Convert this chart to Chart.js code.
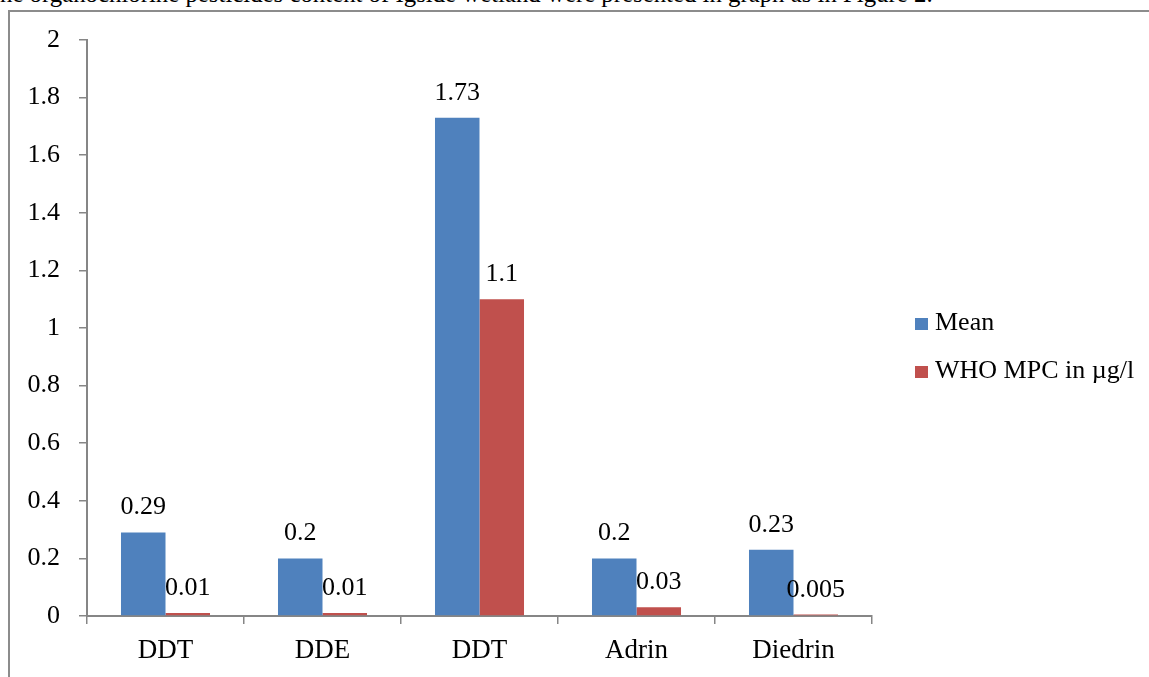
<!DOCTYPE html>
<html>
<head>
<meta charset="utf-8">
<script src="https://cdn.jsdelivr.net/npm/chart.js@4/dist/chart.umd.min.js"></script>
<style>
  html, body { margin: 0; padding: 0; background: #fff; overflow: hidden; }
  #page { position: relative; width: 1149px; height: 677px; overflow: hidden; }
  #lead {
    position: absolute; left: 0; top: -20px; white-space: nowrap;
    font-family: "Liberation Serif", serif; font-size: 24.8px; color: #000;
  }
  #frame {
    position: absolute; left: 8px; top: 10px; width: 1200px; height: 700px;
    border-left: 2px solid #8c8c8c; border-top: 2px solid #8c8c8c; box-sizing: border-box;
  }
  #wrap { position: absolute; left: 0; top: 0; width: 1149px; height: 677px; }
</style>
</head>
<body>
<div id="page">
  <div id="lead">he organochlorine pesticides content of Igside wetland were presented in graph as in Figure 2.</div>
  <div id="frame"></div>
  <div id="wrap"><canvas id="chart" width="1149" height="677"></canvas></div>
</div>
<script>
// Organochlorine pesticide residues (µg/l)
const categories = ["DDT", "DDE", "DDT", "Adrin", "Diedrin"];
const meanValues = [0.29, 0.2, 1.73, 0.2, 0.23];
const whoMpcValues = [0.01, 0.01, 1.1, 0.03, 0.005];
const seriesNames = ["Mean", "WHO MPC in \u00b5g/l"];
const yTickLabels = ["0", "0.2", "0.4", "0.6", "0.8", "1", "1.2", "1.4", "1.6", "1.8", "2"];

const FONT = "Liberation Serif";
const AXIS = "#868686";

// value written above every bar
const barValueLabels = {
  id: "barValueLabels",
  afterDatasetsDraw(chart) {
    const ctx = chart.ctx;
    ctx.save();
    ctx.font = "26px '" + FONT + "'";
    ctx.fillStyle = "#000";
    ctx.textAlign = "center";
    ctx.textBaseline = "alphabetic";
    chart.data.datasets.forEach((ds, di) => {
      chart.getDatasetMeta(di).data.forEach((bar, i) => {
        ctx.fillText(String(ds.data[i]), bar.x, bar.y - 18);
      });
    });
    ctx.restore();
  }
};

// legend on the right: coloured square then series name
const sideLegend = {
  id: "sideLegend",
  afterDraw(chart) {
    const ctx = chart.ctx;
    ctx.save();
    ctx.font = "26px '" + FONT + "'";
    ctx.textBaseline = "alphabetic";
    ctx.textAlign = "left";
    chart.data.datasets.forEach((ds, di) => {
      const base = 330 + di * 48;
      ctx.fillStyle = ds.backgroundColor;
      ctx.fillRect(915, base - 12, 13, 12);
      ctx.fillStyle = "#000";
      ctx.fillText(ds.label, 935, base);
    });
    ctx.restore();
  }
};

new Chart(document.getElementById("chart"), {
  type: "bar",
  data: {
    labels: categories,
    datasets: [
      { label: seriesNames[0], data: meanValues, backgroundColor: "#4F81BD" },
      { label: seriesNames[1], data: whoMpcValues, backgroundColor: "#C0504D" }
    ]
  },
  options: {
    responsive: false,
    animation: false,
    devicePixelRatio: 1,
    layout: { padding: { left: 0, right: 277, top: 40, bottom: 0 } },
    datasets: { bar: { categoryPercentage: 0.567, barPercentage: 1.0 } },
    plugins: { legend: { display: false }, tooltip: { enabled: false } },
    scales: {
      x: {
        afterFit(scale) { scale.height = 61; },
        grid: { display: true, drawOnChartArea: false, drawTicks: true, tickLength: 8, color: AXIS, lineWidth: 1.5, offset: true },
        border: { display: true, color: AXIS, width: 2 },
        ticks: { color: "#000", font: { family: FONT, size: 27 }, padding: 11, maxRotation: 0 }
      },
      y: {
        min: 0, max: 2,
        afterFit(scale) { scale.width = 87; },
        grid: { display: true, drawOnChartArea: false, drawTicks: true, tickLength: 8, color: AXIS, lineWidth: 1.5 },
        border: { display: true, color: AXIS, width: 2 },
        ticks: {
          stepSize: 0.2, color: "#000", font: { family: FONT, size: 26 }, padding: 19,
          callback: (v, i) => yTickLabels[i]
        }
      }
    }
  },
  plugins: [barValueLabels, sideLegend]
});
</script>
</body>
</html>
